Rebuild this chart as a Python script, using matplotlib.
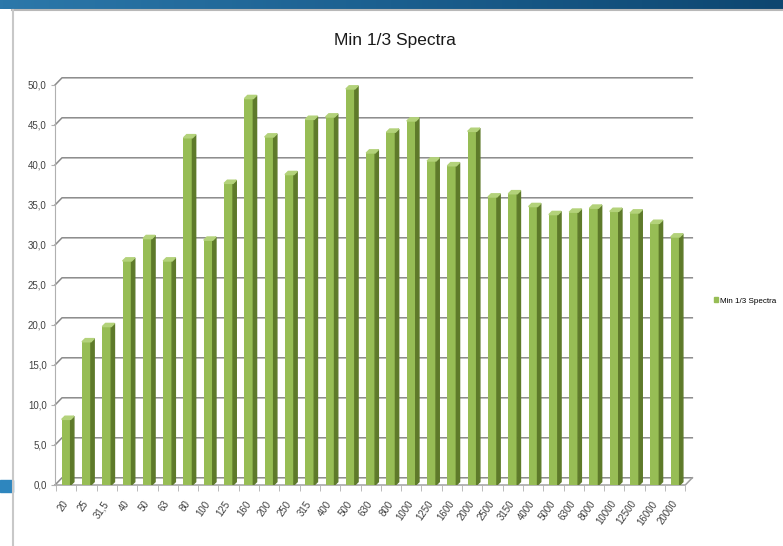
import matplotlib.pyplot as plt
from matplotlib.patches import Polygon, Rectangle, Patch
from matplotlib.lines import Line2D
from matplotlib.colors import LinearSegmentedColormap
import numpy as np

###### data
bands = ["20", "25", "31,5", "40", "50", "63", "80", "100", "125", "160", "200",
         "250", "315", "400", "500", "630", "800", "1000", "1250", "1600", "2000",
         "2500", "3150", "4000", "5000", "6300", "8000", "10000", "12500", "16000",
         "20000"]
levels = [8.2, 17.9, 19.8, 28.0, 30.8, 28.0, 43.4, 30.6, 37.7, 48.3, 43.5,
          38.8, 45.7, 46.0, 49.5, 41.5, 44.1, 45.5, 40.5, 39.9, 44.2,
          36.0, 36.4, 34.8, 33.8, 34.1, 34.6, 34.2, 34.0, 32.7, 31.0]
yticks = np.arange(0, 51, 5)
series_name = "Min 1/3 Spectra"
###############

plt.rcParams['font.family'] = ['Liberation Sans', 'DejaVu Sans']

W, H = 783, 546
fig = plt.figure(figsize=(W / 100, H / 100), dpi=100)

# slide banner on top
bar_ax = fig.add_axes([0, 1 - 9 / H, 1, 9 / H])
grad = np.linspace(0, 1, 256).reshape(1, -1)
cm = LinearSegmentedColormap.from_list("b", ["#2c78aa", "#1b5f8f", "#0d4670"])
bar_ax.imshow(grad, aspect="auto", cmap=cm)
bar_ax.axis("off")

# frame lines and little blue square
fig.add_artist(Line2D([12 / W, 1], [1 - 10 / H, 1 - 10 / H], color="#b8b8b8", lw=1.5))
fig.add_artist(Line2D([13 / W, 13 / W], [0, 1 - 10 / H], color="#c8c8c8", lw=1.5))
fig.add_artist(Rectangle((0, 1 - 492 / H), 13 / W, 12 / H, color="#2e86be",
                         transform=fig.transFigure))

# chart area
px_cat = 20.3
ax = fig.add_axes([55 / W, 61 / H, 645 / W, 425 / H])
x0 = -0.55
x1 = x0 + 645 / px_cat
ax.set_xlim(x0, x1)
ax.set_ylim(0, 425 / 8)

dx, dy = 7 / px_cat, 0.9      # back wall offset
x_end = len(bands) - 0.5

# back wall gridlines with the left wall diagonals
for v in yticks:
    ax.plot([x0, x0 + dx, x_end + dx], [v, v + dy, v + dy], color="#8a8a8a",
            lw=1.1, clip_on=False, zorder=1)
# floor
ax.plot([x0, x_end, x_end + dx], [0, 0, dy], color="#a0a0a0", lw=1.1,
        clip_on=False, zorder=1)

# 3d-ish columns
w = 0.44
ddx, ddy = 0.16, 0.4
xs = np.arange(len(bands))
ax.bar(xs, levels, width=w, color="#97bd55", edgecolor="none", zorder=3)
for x, v in zip(xs, levels):
    side = [(x + w / 2, 0), (x + w / 2 + ddx, ddy), (x + w / 2 + ddx, v + ddy), (x + w / 2, v)]
    top = [(x - w / 2, v), (x + w / 2, v), (x + w / 2 + ddx, v + ddy), (x - w / 2 + ddx, v + ddy)]
    ax.add_patch(Polygon(side, closed=True, color="#5e7a2a", zorder=3))
    ax.add_patch(Polygon(top, closed=True, color="#b3d27a", zorder=4))

# axes styling
for s in ["top", "right", "bottom"]:
    ax.spines[s].set_visible(False)
ax.spines["left"].set_color("#b0b0b0")
ax.spines["left"].set_bounds(0, 50)

ax.set_yticks(yticks)
ax.set_yticklabels([f"{v:.1f}".replace(".", ",") for v in yticks])
ax.tick_params(axis="y", length=3, color="#b0b0b0", labelsize=7,
               labelcolor="#404040", pad=3)

ax.set_xticks(xs)
ax.set_xticklabels(bands, rotation=55, ha="right", va="center",
                   rotation_mode="anchor", fontsize=7, color="#404040")
ax.tick_params(axis="x", length=0, pad=12)
ax.set_xticks(np.arange(-0.5, len(bands)), minor=True)
ax.tick_params(axis="x", which="minor", length=4, color="#b0b0b0")

fig.text(395 / W, 1 - 40 / H, "Min 1/3 Spectra", ha="center", va="center",
         fontsize=12.5, color="#1a1a1a")

fig.legend(handles=[Patch(color="#97bd55")], labels=[series_name],
           loc="center left", bbox_to_anchor=(712 / W, 1 - 301 / H),
           frameon=False, fontsize=5.8, handlelength=0.5, handleheight=0.6,
           handletextpad=0.3, borderaxespad=0, borderpad=0.2)

plt.savefig("out.png", dpi=100)
